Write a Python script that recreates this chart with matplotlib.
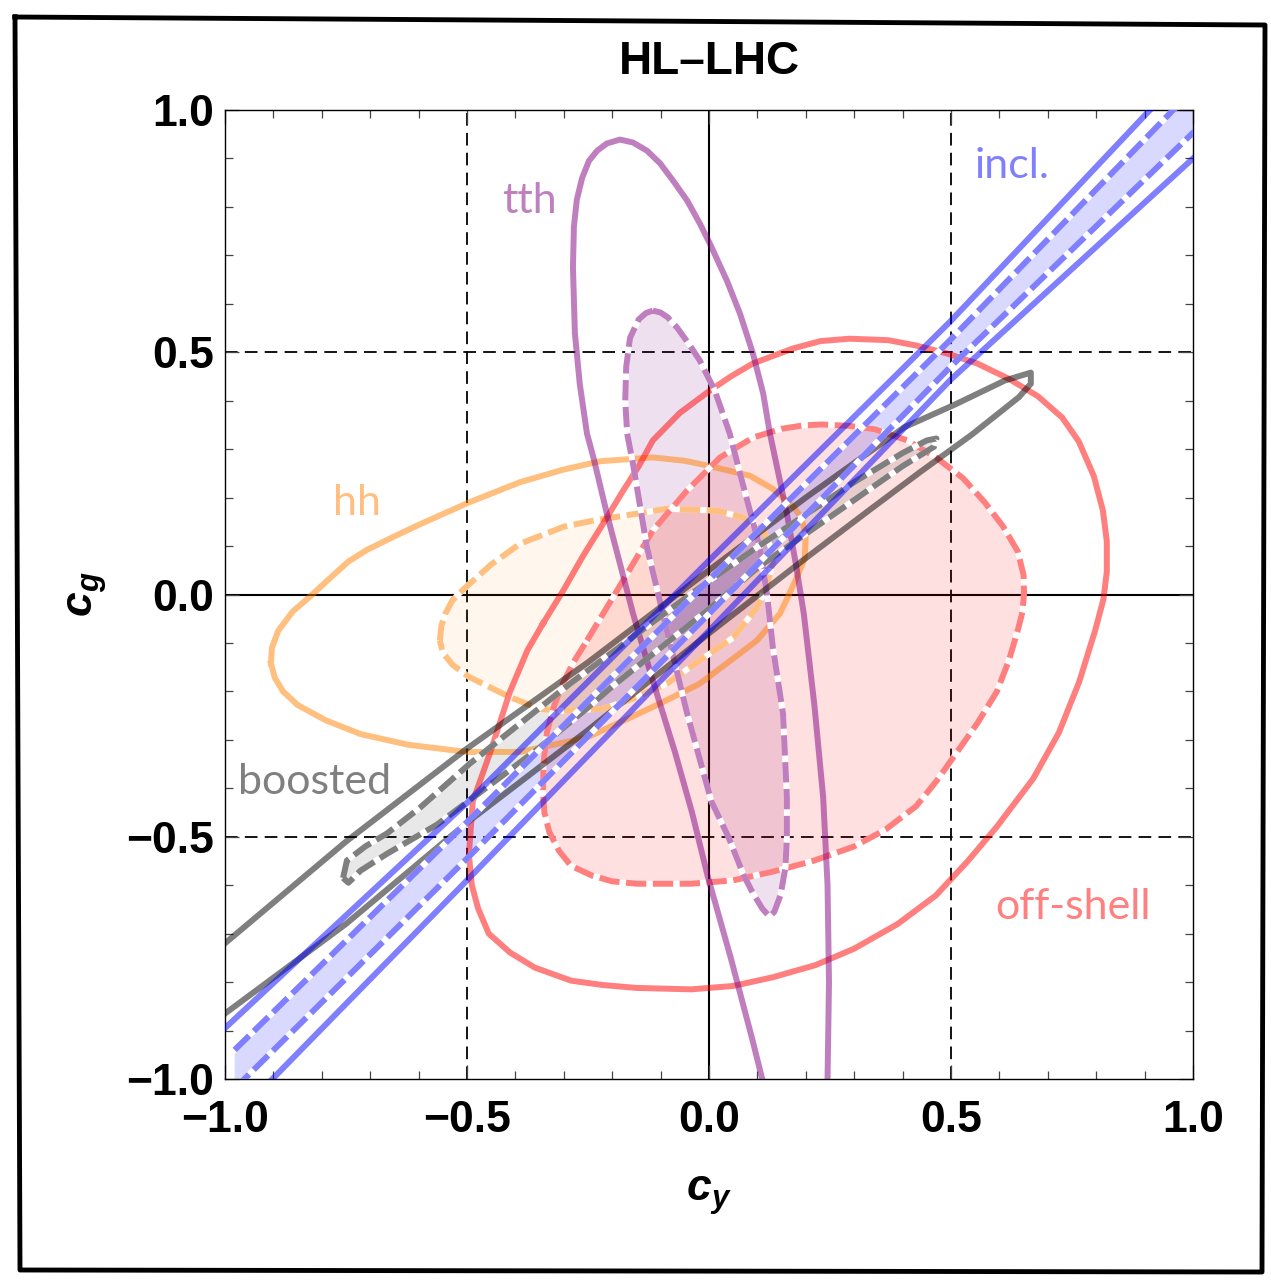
import matplotlib
matplotlib.use("Agg")
import matplotlib.pyplot as plt
from matplotlib.lines import Line2D

plt.rcParams["mathtext.fontset"] = "custom"
plt.rcParams["mathtext.it"] = "Liberation Sans:italic:bold"
plt.rcParams["mathtext.rm"] = "Liberation Sans:bold"
plt.rcParams["mathtext.bf"] = "Liberation Sans:italic:bold"

# contour outlines (c_y, c_g), 2 sigma = solid, 1 sigma = dashed + filled
tth_2s = [(0.135, -1.08), (0.110, -1.0), (0.089, -0.916), (0.045, -0.75), (-0.003, -0.58), (-0.035, -0.45),
          (-0.07, -0.326), (-0.116, -0.178), (-0.157, -0.039), (-0.211, 0.167), (-0.238, 0.28), (-0.252, 0.332),
          (-0.267, 0.435), (-0.277, 0.539), (-0.281, 0.675), (-0.279, 0.760), (-0.273, 0.815), (-0.262, 0.860),
          (-0.248, 0.895), (-0.231, 0.916), (-0.211, 0.931), (-0.184, 0.939), (-0.157, 0.933), (-0.128, 0.916),
          (-0.101, 0.890), (-0.074, 0.854), (-0.045, 0.813), (-0.019, 0.766), (0.002, 0.724), (0.037, 0.648),
          (0.064, 0.580), (0.091, 0.497), (0.112, 0.415), (0.126, 0.332), (0.161, 0.167), (0.180, 0.06),
          (0.196, -0.04), (0.218, -0.23), (0.236, -0.419), (0.245, -0.60), (0.248, -0.80), (0.245, -1.0),
          (0.243, -1.08)]
tth_1s = [(-0.116, 0.586), (-0.100, 0.582), (-0.085, 0.572), (-0.066, 0.551), (-0.040, 0.515), (-0.019, 0.483),
          (0.012, 0.421), (0.043, 0.332), (0.064, 0.25), (0.088, 0.16), (0.105, 0.097), (0.120, 0.0),
          (0.132, -0.109), (0.153, -0.246), (0.161, -0.419), (0.161, -0.50), (0.158, -0.563), (0.148, -0.62),
          (0.135, -0.655), (0.125, -0.665), (0.110, -0.648), (0.090, -0.615), (0.072, -0.58), (0.040, -0.50),
          (0.005, -0.427), (-0.045, -0.246), (-0.087, -0.074), (-0.128, 0.097), (-0.157, 0.27), (-0.169, 0.332),
          (-0.173, 0.40), (-0.171, 0.47), (-0.163, 0.53), (-0.145, 0.568), (-0.130, 0.581)]

hh_2s = [(-0.905, -0.142), (-0.903, -0.110), (-0.890, -0.075), (-0.860, -0.035), (-0.824, -0.004), (-0.785, 0.032),
         (-0.745, 0.068), (-0.707, 0.092), (-0.650, 0.120), (-0.597, 0.145), (-0.496, 0.190), (-0.39, 0.232),
         (-0.30, 0.258), (-0.225, 0.275), (-0.116, 0.283), (-0.05, 0.276), (0.002, 0.265), (0.085, 0.245),
         (0.132, 0.218), (0.174, 0.182), (0.190, 0.160), (0.200, 0.125), (0.198, 0.075), (0.176, 0.023),
         (0.147, -0.039), (0.099, -0.095), (0.037, -0.142), (-0.019, -0.184), (-0.101, -0.225), (-0.18, -0.262),
         (-0.252, -0.295), (-0.39, -0.325), (-0.50, -0.325), (-0.622, -0.31), (-0.72, -0.288), (-0.791, -0.26),
         (-0.850, -0.228), (-0.880, -0.200), (-0.897, -0.172)]
hh_1s = [(-0.556, -0.095), (-0.553, -0.065), (-0.545, -0.04), (-0.530, -0.012), (-0.508, 0.010), (-0.45, 0.062),
         (-0.39, 0.105), (-0.30, 0.140), (-0.242, 0.152), (-0.143, 0.168), (-0.087, 0.177), (0.017, 0.173),
         (0.070, 0.159), (0.112, 0.132), (0.128, 0.097), (0.132, 0.064), (0.120, 0.020), (0.099, -0.027),
         (0.050, -0.089), (-0.019, -0.136), (-0.087, -0.184), (-0.157, -0.215), (-0.22, -0.236), (-0.302, -0.240),
         (-0.35, -0.236), (-0.411, -0.212), (-0.496, -0.170), (-0.530, -0.145), (-0.550, -0.120)]

offshell_2s = [(-0.343, -0.06), (-0.30, 0.01), (-0.26, 0.08), (-0.217, 0.149), (-0.18, 0.21), (-0.145, 0.265),
               (-0.116, 0.318), (-0.06, 0.375), (0.002, 0.421), (0.045, 0.450), (0.091, 0.477), (0.174, 0.508),
               (0.23, 0.523), (0.29, 0.528), (0.37, 0.525), (0.428, 0.514), (0.490, 0.498), (0.554, 0.477),
               (0.620, 0.445), (0.680, 0.409), (0.730, 0.365), (0.764, 0.316), (0.795, 0.245), (0.814, 0.173),
               (0.822, 0.110), (0.822, 0.047), (0.815, -0.010), (0.798, -0.074), (0.765, -0.180), (0.723, -0.285),
               (0.670, -0.380), (0.595, -0.479), (0.535, -0.550), (0.469, -0.621), (0.390, -0.680), (0.300, -0.731),
               (0.220, -0.765), (0.132, -0.790), (0.050, -0.808), (-0.037, -0.815), (-0.15, -0.812), (-0.22, -0.806),
               (-0.285, -0.797), (-0.360, -0.770), (-0.411, -0.739), (-0.455, -0.700), (-0.477, -0.648),
               (-0.490, -0.600), (-0.496, -0.537), (-0.488, -0.427), (-0.452, -0.326), (-0.411, -0.2),
               (-0.375, -0.115)]
offshell_1s = [(-0.252, -0.095), (-0.169, 0.043), (-0.116, 0.132), (-0.045, 0.215), (0.023, 0.283), (0.091, 0.324),
               (0.150, 0.342), (0.194, 0.349), (0.233, 0.351), (0.290, 0.348), (0.343, 0.341), (0.410, 0.318),
               (0.469, 0.283), (0.525, 0.240), (0.570, 0.190), (0.608, 0.140), (0.638, 0.089), (0.650, 0.040),
               (0.651, 0.004), (0.648, -0.035), (0.638, -0.074), (0.620, -0.135), (0.595, -0.2), (0.555, -0.265),
               (0.512, -0.326), (0.470, -0.385), (0.428, -0.437), (0.365, -0.485), (0.300, -0.520), (0.215, -0.550),
               (0.132, -0.572), (0.050, -0.590), (-0.037, -0.597), (-0.149, -0.597), (-0.200, -0.592),
               (-0.242, -0.58), (-0.285, -0.560), (-0.310, -0.529), (-0.330, -0.490), (-0.340, -0.45),
               (-0.343, -0.411), (-0.342, -0.35), (-0.335, -0.285), (-0.320, -0.230), (-0.302, -0.184),
               (-0.280, -0.140)]

boosted_2s = [(-1.08, -0.79), (-1.0, -0.720), (-0.75, -0.51), (-0.5, -0.318), (-0.25, -0.14), (0.0, 0.05),
              (0.20, 0.20), (0.403, 0.345), (0.508, 0.392), (0.612, 0.442), (0.665, 0.458), (0.665, 0.435),
              (0.640, 0.407), (0.543, 0.330), (0.438, 0.254), (0.335, 0.177), (0.2, 0.075), (0.0, -0.08),
              (-0.25, -0.28), (-0.5, -0.471), (-0.75, -0.68), (-1.0, -0.865), (-1.08, -0.925)]
boosted_1s = [(-0.756, -0.585), (-0.748, -0.549), (-0.71, -0.52), (-0.665, -0.493), (-0.597, -0.44), (-0.494, -0.349),
              (-0.390, -0.266), (-0.287, -0.184), (-0.198, -0.118), (-0.1, -0.045), (0.0, 0.028), (0.1, 0.098),
              (0.2, 0.165), (0.3, 0.232), (0.40, 0.292), (0.45, 0.318), (0.47, 0.322), (0.465, 0.305), (0.40, 0.265),
              (0.3, 0.195), (0.2, 0.125), (0.1, 0.055), (0.0, -0.03), (-0.1, -0.11), (-0.2, -0.19), (-0.252, -0.235),
              (-0.355, -0.32), (-0.459, -0.398), (-0.562, -0.475), (-0.665, -0.535), (-0.72, -0.57), (-0.745, -0.595)]

incl_2s_upper = [(-1.05, -0.945), (-1.0, -0.895), (-0.5, -0.43), (0.0, 0.07), (0.5, 0.565), (0.911, 1.0), (0.95, 1.04)]
incl_1s_upper = [(-0.98, -0.94), (-0.5, -0.47), (0.0, 0.03), (0.5, 0.527), (0.959, 1.0), (0.99, 1.03)]
incl_1s_lower = [(-0.98, -1.02), (-0.5, -0.545), (0.0, -0.04), (0.5, 0.471), (1.0, 0.953), (1.05, 1.0)]
incl_2s_lower = [(-1.0, -1.10), (-0.5, -0.59), (0.0, -0.075), (0.5, 0.444), (1.0, 0.90), (1.05, 0.945)]

labels = ["tth", "hh", "boosted", "incl.", "off-shell"]
label_pos = [(-0.37, 0.813), (-0.727, 0.188), (-0.814, -0.388), (0.626, 0.885), (0.752, -0.646)]
label_col = ["purple", "orange", "black", "blue", "red"]

ticks = [-1.0, -0.5, 0.0, 0.5, 1.0]
tick_labels = ["\u22121.0", "\u22120.5", "0.0", "0.5", "1.0"]

COL = {"purple": (0.5, 0, 0.5), "orange": (1, 0.5, 0), "red": (1, 0, 0), "blue": (0, 0, 1), "black": (0, 0, 0)}
LW = 4.3


def xy(pts, close=False):
    xs = [p[0] for p in pts]
    ys = [p[1] for p in pts]
    if close:
        xs.append(xs[0])
        ys.append(ys[0])
    return xs, ys


def solid(pts, c, close=False):
    xs, ys = xy(pts, close)
    ax.plot(xs, ys, color=COL[c], alpha=0.5, lw=LW, solid_joinstyle="round", zorder=3)


def dashed(pts, c, close=False):
    xs, ys = xy(pts, close)
    ax.plot(xs, ys, color="white", lw=LW, solid_joinstyle="round", zorder=3)
    ax.plot(xs, ys, color=COL[c], alpha=0.5, lw=LW, ls=(0, (3.4, 1.1)), dash_joinstyle="round", zorder=3)


def filled(pts, c, a):
    xs, ys = xy(pts, True)
    ax.fill(xs, ys, color=COL[c], alpha=a, lw=0, zorder=2)


fig = plt.figure(figsize=(12.71, 12.81), dpi=100)
ax = fig.add_axes([0.177, 0.1577, 0.7616, 0.7564])
ax.set_xlim(-1, 1)
ax.set_ylim(-1, 1)

# grid
for v in (-0.5, 0.5):
    ax.axvline(v, color="k", lw=1.3, ls=(0, (7, 4)), zorder=1)
    ax.axhline(v, color="k", lw=1.3, ls=(0, (7, 4)), zorder=1)
ax.axvline(0, color="k", lw=1.5, zorder=1)
ax.axhline(0, color="k", lw=1.5, zorder=1)

# fills
filled(tth_1s, "purple", 0.12)
filled(hh_1s, "orange", 0.07)
filled(offshell_1s, "red", 0.12)
filled(boosted_1s, "black", 0.09)
filled(incl_1s_upper + incl_1s_lower[::-1], "blue", 0.15)

# lines
solid(hh_2s, "orange", True)
dashed(hh_1s, "orange", True)
solid(offshell_2s, "red", True)
dashed(offshell_1s, "red", True)
solid(tth_2s, "purple")
dashed(tth_1s, "purple", True)
solid(boosted_2s, "black")
dashed(boosted_1s, "black", True)
solid(incl_2s_upper, "blue")
solid(incl_2s_lower, "blue")
dashed(incl_1s_upper, "blue")
dashed(incl_1s_lower, "blue")

for t, p, c in zip(labels, label_pos, label_col):
    r, g, b = COL[c]
    ax.text(p[0], p[1], t, color=(1 - 0.5 * (1 - r), 1 - 0.5 * (1 - g), 1 - 0.5 * (1 - b)),
            fontsize=31, family="Lato", ha="center", va="center", zorder=5)

ax.set_xticks(ticks)
ax.set_yticks(ticks)
ax.set_xticklabels(tick_labels)
ax.set_yticklabels(tick_labels)
ax.set_xticks([i / 10 for i in range(-10, 11)], minor=True)
ax.set_yticks([i / 10 for i in range(-10, 11)], minor=True)
ax.tick_params(which="both", direction="in", top=True, right=True, width=0.9, color="#444444")
ax.tick_params(which="major", length=10, labelsize=32)
ax.tick_params(axis="x", which="major", pad=15)
ax.tick_params(axis="y", which="major", pad=8)
ax.tick_params(which="minor", length=6)
for lab in ax.get_xticklabels() + ax.get_yticklabels():
    lab.set_fontfamily("Liberation Sans")
    lab.set_fontweight("bold")
for s in ax.spines.values():
    s.set_linewidth(1.0)

ax.set_xlabel(r"$\mathbf{c_y}$", fontsize=32, labelpad=24)
ax.set_ylabel(r"$\mathbf{c_g}$", fontsize=32, labelpad=12)

fig.text(0.558, 0.9516, "HL\u2013LHC", fontsize=33, family="Liberation Sans", fontweight="bold",
         ha="center", va="center")

# outer frame of the original picture
fx = [15 / 1271, 1265 / 1271, 1262 / 1271, 20 / 1271, 15 / 1271]
fy = [1 - 17 / 1281, 1 - 25 / 1281, 1 - 1272 / 1281, 1 - 1270 / 1281, 1 - 17 / 1281]
fig.add_artist(Line2D(fx, fy, transform=fig.transFigure, color="k", lw=3.5))

fig.savefig("out.png", dpi=100)
